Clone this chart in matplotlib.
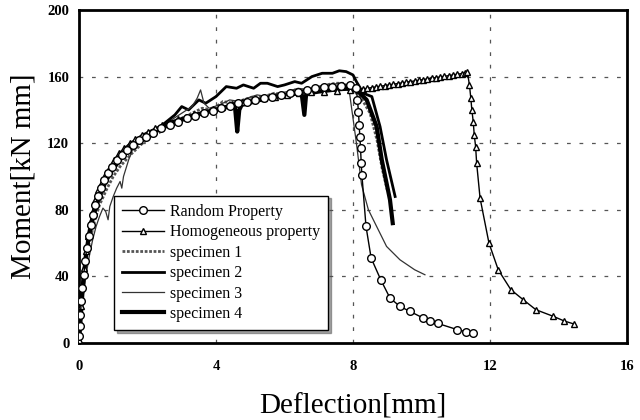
import numpy as np
import matplotlib
matplotlib.use('Agg')
import matplotlib.pyplot as plt

#----------------------------------------------------------------------------

plt.rcParams['font.family'] = ['Liberation Serif', 'DejaVu Serif']

# Random property (simulation, open circles)
random_x = [0.0, 0.02, 0.04, 0.07, 0.1, 0.14, 0.18, 0.23, 0.28, 0.34, 0.4, 0.47,
            0.55, 0.64, 0.74, 0.85, 0.97, 1.1, 1.25, 1.4, 1.57, 1.75, 1.95, 2.15,
            2.4, 2.65, 2.9, 3.15, 3.4, 3.65, 3.9, 4.15, 4.4, 4.65, 4.9, 5.15, 5.4,
            5.65, 5.9, 6.15, 6.4, 6.65, 6.9, 7.15, 7.4, 7.65, 7.9, 8.1,
            8.13, 8.16, 8.18, 8.2, 8.22, 8.24, 8.26, 8.38, 8.53, 8.81, 9.08, 9.37,
            9.66, 10.05, 10.24, 10.47, 11.05, 11.3, 11.5]
random_y = [4, 10, 17, 25, 33, 41, 49, 57, 64, 71, 77, 83,
            88, 93, 98, 102, 106, 110, 113, 116, 119, 122, 124, 126,
            129, 131, 133, 135, 136.5, 138, 139.5, 141, 142.5, 144, 145, 146, 147,
            148, 149, 150, 151, 152, 153, 153.5, 154, 154.5, 155, 153,
            146, 139, 131, 124, 117, 108, 101, 70, 51, 38, 27, 22,
            19, 15, 13.5, 11.8, 8, 6.8, 6.2]

# Homogeneous property (simulation, triangles)
homog_x = [0.0, 0.03, 0.06, 0.1, 0.15, 0.2, 0.26, 0.33, 0.4, 0.48, 0.57, 0.67,
           0.78, 0.9, 1.03, 1.17, 1.32, 1.48, 1.65, 1.83, 2.02, 2.22, 2.43, 2.65,
           2.88, 3.12, 3.37, 3.63, 3.9, 4.18, 4.47, 4.77, 5.08, 5.4, 5.73, 6.07,
           6.42, 6.78, 7.15, 7.53, 7.92, 8.3, 8.42, 8.55, 8.67, 8.8, 8.92, 9.05,
           9.17, 9.3, 9.42, 9.55, 9.67, 9.8, 9.92, 10.05, 10.17, 10.3, 10.42, 10.55,
           10.67, 10.8, 10.92, 11.05, 11.17, 11.28, 11.34,
           11.4, 11.44, 11.47, 11.51, 11.54, 11.58, 11.61, 11.71, 11.97, 12.24,
           12.61, 12.97, 13.34, 13.85, 14.17, 14.44]
homog_y = [2, 12, 22, 34, 45, 55, 64, 72, 79, 86, 92, 97,
           102, 106, 110, 114, 117, 120, 122.5, 125, 127, 129, 131, 133,
           134.5, 136, 137.5, 139, 140.5, 142, 143.5, 145, 146, 147, 148, 149,
           150, 150.5, 151, 151.5, 152, 152.5, 153, 153.4, 153.8, 154.2, 154.6, 155,
           155.4, 155.8, 156.2, 156.6, 157, 157.4, 157.8, 158.2, 158.6, 159, 159.4, 159.8,
           160.2, 160.6, 161, 161.4, 161.8, 162.2, 162.5,
           155, 147, 140, 133, 125, 118, 108, 87, 60, 44,
           32, 26, 20, 16, 13.2, 11.5]

# Test specimens
spec1_x = [0.0, 0.05, 0.1, 0.2, 0.3, 0.45, 0.6, 0.8, 1.0, 1.2, 1.5, 1.8, 2.1,
           2.4, 2.7, 3.0, 3.3, 3.6, 3.9, 4.2, 4.5, 4.8, 5.1, 5.4, 5.7, 6.0, 6.3,
           6.6, 6.9, 7.2, 7.5, 7.7, 7.9, 8.1, 8.3, 8.5, 8.7, 8.85, 9.0]
spec1_y = [0, 18, 32, 48, 60, 73, 83, 92, 100, 106, 113, 119, 124,
           127, 132, 135, 138, 141, 140, 145, 144, 146, 148, 148, 150, 149, 152,
           152, 153, 155, 156, 156, 154, 150, 145, 138, 122, 105, 92]

spec2_x = [0.0, 0.05, 0.1, 0.2, 0.3, 0.45, 0.6, 0.8, 1.0, 1.3, 1.6, 2.0, 2.5,
           2.8, 3.0, 3.2, 3.5, 3.7, 4.0, 4.3, 4.6, 4.8, 5.1, 5.3, 5.5, 5.8, 6.0,
           6.3, 6.5, 6.8, 7.1, 7.4, 7.6, 7.8, 8.0, 8.1, 8.3, 8.55, 8.79, 8.98, 9.23]
spec2_y = [0, 20, 36, 52, 64, 77, 87, 97, 104, 112, 118, 124, 132,
           137, 142, 140, 146, 144, 148, 154, 153, 155, 153, 156, 156, 154, 155,
           157, 156, 160, 162, 162, 163.5, 163, 161, 157, 150, 148, 130, 110, 88]

spec3_x = [0.0, 0.05, 0.1, 0.2, 0.3, 0.4, 0.5, 0.6, 0.7, 0.78, 0.85, 0.9, 1.0,
           1.1, 1.2, 1.25, 1.3, 1.45, 1.6, 1.8, 2.1, 2.4, 2.7, 3.0, 3.3, 3.45,
           3.55, 3.65, 3.8, 4.1, 4.4, 4.7, 4.9, 5.2, 5.5, 5.8, 6.1, 6.4, 6.7,
           7.0, 7.3, 7.6, 7.8, 7.9, 8.0, 8.1, 8.25, 8.45, 8.69, 8.98, 9.37, 9.8, 10.1]
spec3_y = [0, 12, 25, 40, 52, 62, 70, 76, 81, 79, 74, 82, 88,
           93, 97, 93, 100, 110, 118, 123, 126, 130, 134, 138, 142, 147,
           152, 144, 141, 143, 146, 145, 147, 149, 148, 150, 151, 153, 152,
           154, 155, 156, 155, 150, 135, 120, 95, 80, 70, 58, 50, 44, 41]

spec4_x = [0.0, 0.05, 0.1, 0.15, 0.2, 0.3, 0.4, 0.5, 0.6, 0.8, 1.0, 1.2, 1.4,
           1.7, 2.0, 2.3, 2.6, 3.0, 3.4, 3.8, 4.2, 4.55, 4.62, 4.68, 4.75, 5.1,
           5.5, 6.0, 6.5, 6.58, 6.63, 6.7, 7.0, 7.4, 7.8, 8.1, 8.4, 8.69, 8.84,
           9.08, 9.16]
spec4_y = [0, 15, 30, 42, 52, 66, 76, 84, 90, 99, 106, 111, 116,
           121, 125, 128, 131, 134, 137, 139, 141, 143, 127, 140, 143, 145,
           147, 149, 150, 137, 149, 150, 151, 152, 153, 152, 146, 130, 110,
           86, 72]

x_ticks = [0, 4, 8, 12, 16]
y_ticks = [0, 40, 80, 120, 160, 200]

#----------------------------------------------------------------------------

def _styleAxes(ax):
    ax.set_xlim(0, 16)
    ax.set_ylim(0, 200)
    ax.set_xticks(x_ticks)
    ax.set_yticks(y_ticks)
    ax.tick_params(axis='both', length=0, labelsize=10.5)
    ax.tick_params(axis='x', pad=12)
    ax.tick_params(axis='y', pad=7)
    for lbl in ax.get_xticklabels() + ax.get_yticklabels():
        lbl.set_fontweight('bold')
    for s in ax.spines.values():
        s.set_linewidth(2.0)
        s.set_color('black')
    # dashed grid only on the inner lines
    for xv in x_ticks[1:-1]:
        ax.axvline(xv, color='#555555', lw=0.9, ls=(0, (3, 7)), zorder=0)
    for yv in y_ticks[1:-1]:
        ax.axhline(yv, color='#555555', lw=0.9, ls=(0, (3, 7)), zorder=0)
    ax.set_xlabel('Deflection[mm]', fontsize=21, labelpad=15)
    ax.set_ylabel('Moment[kN mm]', fontsize=21, labelpad=8)

def plotMomentDeflection():
    fig = plt.figure(figsize=(6.4, 4.2), dpi=100)
    ax = fig.add_axes([0.1234, 0.1833, 0.8563, 0.7929])

    ax.plot(random_x, random_y, color='black', lw=1.0, marker='o', ms=5.5,
            mfc='white', mec='black', mew=1.0, label='Random Property', zorder=4)
    ax.plot(homog_x, homog_y, color='black', lw=1.0, marker='^', ms=5,
            mfc='white', mec='black', mew=1.0, label='Homogeneous property', zorder=3)
    ax.plot(spec1_x, spec1_y, color='#555555', lw=2.0, ls=(0, (1, 0.6)),
            label='specimen 1', zorder=2)
    ax.plot(spec2_x, spec2_y, color='black', lw=2.0, label='specimen 2', zorder=2)
    ax.plot(spec3_x, spec3_y, color='#333333', lw=0.9, label='specimen 3', zorder=2)
    ax.plot(spec4_x, spec4_y, color='black', lw=3.0, label='specimen 4', zorder=2)

    _styleAxes(ax)

    leg = ax.legend(loc='lower left', bbox_to_anchor=(0.05, 0.015), fontsize=11.5,
                    frameon=True, fancybox=False, shadow=True, framealpha=1,
                    edgecolor='black', handlelength=2.6, handletextpad=0.4,
                    labelspacing=0.28, borderpad=0.5)
    leg.get_frame().set_linewidth(1.0)

    fig.savefig('out.png', dpi=100)

#----------------------------------------------------------------------------

if __name__ == "__main__":
    plotMomentDeflection()
